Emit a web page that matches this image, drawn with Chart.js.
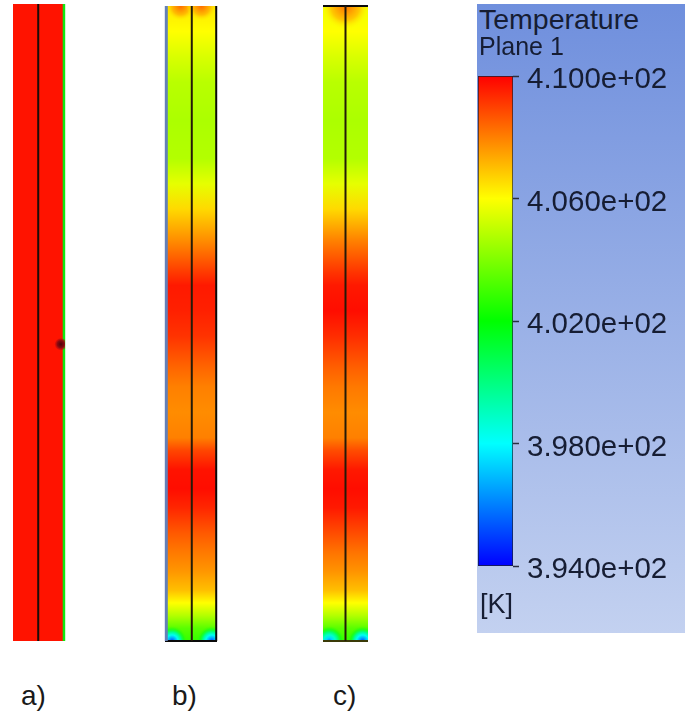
<!DOCTYPE html>
<html lang="en">
<head>
<meta charset="UTF-8">
<title>Temperature Plane 1</title>
<script src="https://cdn.jsdelivr.net/npm/chart.js"></script>
<style>
  html, body { margin: 0; padding: 0; background: #fff; width: 685px; height: 715px; overflow: hidden; }
  canvas { position: absolute; }
  #legendBg { position: absolute; left: 477px; top: 4px; width: 208px; height: 629px;
    background: linear-gradient(#6f8fdd, #c3d1f0); }
  .t { position: absolute; font-family: "Liberation Sans", Arial, sans-serif; white-space: nowrap; line-height: normal; }
  .leg { color: #161d33; }
  .cap { color: #1a1a1a; font-size: 28px; top: 680px; }
</style>
</head>
<body>
<div id="legendBg"></div>
<canvas id="panelA"></canvas>
<canvas id="panelB"></canvas>
<canvas id="panelC"></canvas>
<canvas id="legendBar"></canvas>
<span class="t leg" style="left:479px;top:3px;font-size:28.5px">Temperature</span>
<span class="t leg" style="left:479px;top:32px;font-size:25px">Plane 1</span>
<span class="t leg" style="left:480px;top:589px;font-size:27px">[K]</span>
<span class="t cap" style="left:21px">a)</span>
<span class="t cap" style="left:172px">b)</span>
<span class="t cap" style="left:333px">c)</span>

<script>
// colour legend
const legendTemps = [394, 398, 402, 406, 410];
const legendColors = ['#0000ff', '#00ffff', '#00ff00', '#ffff00', '#ff0000'];
const legendTickLabels = ['3.940e+02', '3.980e+02', '4.020e+02', '4.060e+02', '4.100e+02'];

// axial stations, percent of the tube height from the top
const stations = [0, 4, 8, 12, 18, 24, 28, 32, 37, 42, 44, 48, 52, 57, 60, 64, 68, 70, 73, 76, 79, 83, 86, 89, 92, 94, 96, 98, 100];

// temperature along the tube [K]
const tempsA = [409.7, 409.7, 409.7, 409.7, 409.7, 409.7, 409.7, 409.7, 409.7, 409.7, 409.7, 409.7, 409.7, 409.7, 409.7, 409.7, 409.7, 409.7, 409.7, 409.7, 409.7, 409.7, 409.7, 409.7, 409.7, 409.7, 409.7, 409.7, 409.7];
const tempsB = [406.4, 406, 405.4, 404.9, 404.7, 404.8, 405.6, 406.6, 407.8, 409.1, 409.6, 409.5, 409.2, 408.4, 408, 407.8, 408, 408.9, 409.7, 409.8, 409.4, 408.6, 408.1, 407.65, 407, 406, 404.8, 403.4, 402.8];
const tempsC = [405.8, 406, 405.4, 404.9, 404.7, 404.8, 405.6, 406.6, 408, 409.2, 409.6, 409.8, 409.3, 408.5, 408.1, 407.8, 408, 408.8, 409.6, 409.8, 409.6, 408.8, 408.2, 407.7, 407, 406, 404.8, 403.4, 402.8];

// local hot / cold spots near the tube ends (t = peak temperature, edge = temperature it fades into)
const spotsA = [{ x: 0.92, y: 53.4, r: 6, t: 0, edge: 0 }];
const spotsB = [
  { x: 0.3, y: 0, r: 15, t: 408.3, edge: 406.2 },
  { x: 0.7, y: 0, r: 15, t: 408.3, edge: 406.2 },
  { x: 0.135, y: 100, r: 15, t: 395, edge: 403 },
  { x: 0.9, y: 100, r: 15, t: 395, edge: 403 }
];
const spotsC = [
  { x: 0.5, y: 0, r: 24, t: 408.2, edge: 406 },
  { x: 0.14, y: 100, r: 15, t: 396, edge: 403 },
  { x: 0.88, y: 100, r: 15, t: 395, edge: 403 }
];

// colour for a temperature, same map as the legend
function tempColor(t, alpha) {
  const rgb = legendColors.map(c => [1, 3, 5].map(i => parseInt(c.substr(i, 2), 16)));
  let i = 0;
  while (i < legendTemps.length - 2 && t > legendTemps[i + 1]) i++;
  const f = Math.min(1, Math.max(0, (t - legendTemps[i]) / (legendTemps[i + 1] - legendTemps[i])));
  const c = rgb[i].map((v, k) => Math.round(v + (rgb[i + 1][k] - v) * f));
  return `rgba(${c[0]},${c[1]},${c[2]},${alpha === undefined ? 1 : alpha})`;
}

function spotFill(ctx) {
  const s = ctx.raw;
  const chart = ctx.chart;
  // bubble options get resolved once before the layout exists
  if (!s || !chart.chartArea) return 'transparent';
  const px = chart.scales.x.getPixelForValue(s.x);
  const py = chart.scales.y.getPixelForValue(s.y);
  const g = chart.ctx.createRadialGradient(px, py, 0, px, py, s.r);
  if (!s.t) { // overheated node, off the colour map
    g.addColorStop(0, '#4a0408');
    g.addColorStop(0.6, '#8c0a10');
    g.addColorStop(1, 'rgba(200,10,10,0.4)');
    return g;
  }
  [0, 0.2, 0.4, 0.6, 0.8, 1].forEach(f => {
    g.addColorStop(f, tempColor(s.t + (s.edge - s.t) * f, f < 0.6 ? 1 : (1 - f) * 2.5));
  });
  return g;
}

function tubeFill(temps) {
  return function (ctx) {
    const chart = ctx.chart;
    if (!chart.chartArea) return 'transparent';
    const y = chart.scales.y;
    const g = chart.ctx.createLinearGradient(0, y.getPixelForValue(0), 0, y.getPixelForValue(100));
    stations.forEach((s, i) => g.addColorStop(s / 100, tempColor(temps[i])));
    return g;
  };
}

function segment(x0, y0, x1, y1, color, width) {
  return {
    type: 'line', data: [{ x: x0, y: y0 }, { x: x1, y: y1 }],
    borderColor: color, borderWidth: width, pointRadius: 0, clip: false, order: 2
  };
}

function makeTube(id, box, temps, spots, lines, spotOrder) {
  const pad = 4;
  const el = document.getElementById(id);
  el.width = box.right - box.left + pad * 2;
  el.height = box.bottom - box.top + pad * 2;
  el.style.left = (box.left - pad) + 'px';
  el.style.top = (box.top - pad) + 'px';
  return new Chart(el, {
    type: 'scatter',
    data: {
      datasets: [
        {
          type: 'line', data: [{ x: 0, y: 0 }, { x: 1, y: 0 }], fill: { value: 100 },
          backgroundColor: tubeFill(temps), borderWidth: 0, pointRadius: 0, order: 5
        },
        { type: 'bubble', data: spots, backgroundColor: spotFill, borderWidth: 0, clip: 0, order: spotOrder }
      ].concat(lines)
    },
    options: {
      responsive: false, animation: false, events: [],
      layout: { padding: pad, autoPadding: false },
      plugins: { legend: { display: false }, tooltip: { enabled: false } },
      scales: {
        x: { type: 'linear', min: 0, max: 1, display: false },
        y: { type: 'linear', min: 0, max: 100, reverse: true, display: false }
      }
    }
  });
}

// on tube a the dark spot sits over the wall line
makeTube('panelA', { left: 13, right: 65, top: 4, bottom: 641 }, tempsA, spotsA, [
  segment(0.485, 0, 0.485, 100, '#1a0d08', 2),
  segment(0.98, 0, 0.98, 100, '#10e810', 2.5)
], 1);

makeTube('panelB', { left: 165, right: 217, top: 6, bottom: 641 }, tempsB, spotsB, [
  segment(0.515, 0, 0.515, 100, '#241a08', 2),
  segment(0.025, 0, 0.025, 100, '#6480b8', 3),
  segment(0.985, 0, 0.985, 100, '#0a0a0a', 2),
  segment(0, 100, 1, 100, '#0a0a0a', 2)
], 4);

makeTube('panelC', { left: 323, right: 368, top: 6, bottom: 641 }, tempsC, spotsC, [
  segment(0.5, 0, 0.5, 100, '#241a08', 2),
  segment(0, 0, 1, 0, '#0a0a0a', 2),
  segment(0, 100, 1, 100, '#3a3a08', 2)
], 4);

// colour bar
const barEl = document.getElementById('legendBar');
barEl.width = 215;
barEl.height = 560;
barEl.style.left = '470px';
barEl.style.top = '46px';
new Chart(barEl, {
  type: 'bar',
  data: {
    labels: ['Temperature'],
    datasets: [{
      data: [[legendTemps[0], legendTemps[legendTemps.length - 1]]],
      barPercentage: 1, categoryPercentage: 1,
      borderColor: '#1c2030', borderWidth: 1, borderSkipped: false,
      backgroundColor: function (ctx) {
        const chart = ctx.chart;
        if (!chart.chartArea) return 'transparent';
        const y = chart.scales.y;
        const top = y.getPixelForValue(legendTemps[legendTemps.length - 1]);
        const bot = y.getPixelForValue(legendTemps[0]);
        const g = chart.ctx.createLinearGradient(0, bot, 0, top);
        legendTemps.forEach((t, i) => g.addColorStop(i / (legendTemps.length - 1), legendColors[i]));
        return g;
      }
    }]
  },
  options: {
    responsive: false, animation: false, events: [],
    layout: { padding: { left: 8, top: 30, bottom: 40, right: 0 } },
    plugins: { legend: { display: false }, tooltip: { enabled: false } },
    scales: {
      x: { display: false },
      y: {
        position: 'right', min: 394, max: 410,
        afterFit: s => { s.width = 172; },
        border: { display: false },
        grid: { drawOnChartArea: false, color: '#2a3040', tickLength: 6, tickWidth: 1.5 },
        ticks: {
          stepSize: 4, padding: 8, color: '#161d33', labelOffset: 4,
          font: { family: '"Liberation Sans", Arial, sans-serif', size: 29.5 },
          callback: (v, i) => legendTickLabels[i]
        }
      }
    }
  }
});
</script>
</body>
</html>
